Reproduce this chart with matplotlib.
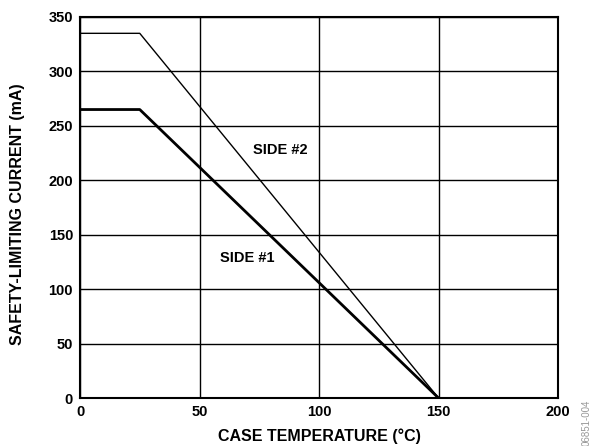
import matplotlib
matplotlib.use("Agg")
import matplotlib.pyplot as plt

# case temperature (deg C) and safety-limiting current (mA)
temp = [0, 25, 150]
side1 = [265, 265, 0]
side2 = [335, 335, 0]

x_ticks = [0, 50, 100, 150, 200]
y_ticks = [0, 50, 100, 150, 200, 250, 300, 350]

plt.rcParams["font.family"] = ["Liberation Sans", "DejaVu Sans"]

fig = plt.figure(figsize=(5.9, 4.46), dpi=100)
ax = fig.add_axes([0.1356, 0.1076, 0.8102, 0.8543])

ax.plot(temp, side1, color="black", lw=2.0, solid_capstyle="butt")
ax.plot(temp, side2, color="black", lw=1.0)

ax.set_xlim(0, 200)
ax.set_ylim(0, 350)
ax.set_xticks(x_ticks)
ax.set_yticks(y_ticks)
ax.grid(True, color="black", lw=1.0)
ax.tick_params(length=0, labelsize=10.5, pad=5)
for lbl in ax.get_xticklabels() + ax.get_yticklabels():
    lbl.set_fontweight("bold")
for s in ax.spines.values():
    s.set_linewidth(1.5)

ax.text(84, 228, "SIDE #2", fontsize=10.5, fontweight="bold", ha="center", va="center")
ax.text(70, 129, "SIDE #1", fontsize=10.5, fontweight="bold", ha="center", va="center")

ax.set_xlabel("CASE TEMPERATURE (°C)", fontsize=11.5, fontweight="bold", labelpad=7)
ax.set_ylabel("SAFETY-LIMITING CURRENT (mA)", fontsize=11.5, fontweight="bold")
ax.yaxis.set_label_coords(-0.115, 0.483)

fig.text(0.994, 0.0, "06851-004", rotation=90, fontsize=7, color="#999999",
         ha="center", va="bottom")

fig.savefig("out.png", dpi=100)
